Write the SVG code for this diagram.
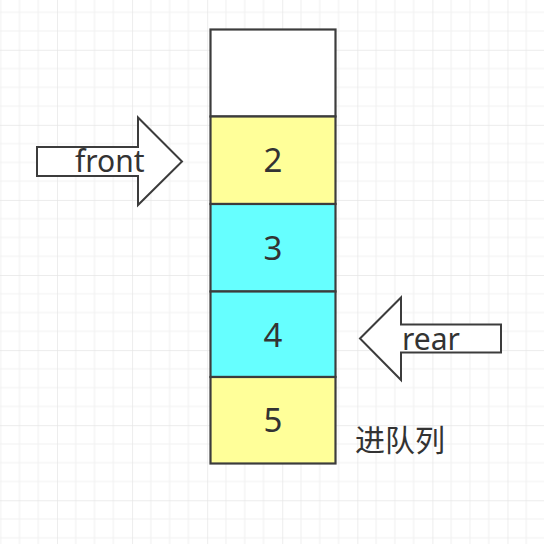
<svg xmlns="http://www.w3.org/2000/svg" width="544" height="544" viewBox="0 0 544 544">
<defs>
<pattern id="grid" patternUnits="userSpaceOnUse" x="-18.08" y="-25.3" width="75.08" height="75.08">
<rect width="75.08" height="75.08" fill="#ffffff"/>
<path d="M18.77 0V75.08M37.54 0V75.08M56.31 0V75.08M0 18.77H75.08M0 37.54H75.08M0 56.31H75.08" stroke="#f2f2f2" stroke-width="1.2" fill="none"/>
<path d="M0 0V75.08M0 0H75.08" stroke="#e6e6e6" stroke-width="1.4" fill="none"/>
</pattern>
</defs>
<style>
.cell{stroke:#3c3c3c;stroke-width:2.2}
.empty{fill:#ffffff}
.yellow{fill:#ffff99}
.cyan{fill:#66ffff}
.arrow{fill:#ffffff;stroke:#3c3c3c;stroke-width:2;stroke-linejoin:miter}
.num{font-family:"Noto Sans","Noto Sans CJK SC",sans-serif;font-size:33px;fill:#333333;text-anchor:middle}
.lbl{font-family:"Noto Sans","Noto Sans CJK SC",sans-serif;font-size:30px;fill:#333333}
.cjk{font-family:"Noto Sans CJK SC",sans-serif;font-size:30px;fill:#333333}
</style>
<rect width="544" height="544" fill="url(#grid)"/>
<g id="cell-empty"><rect class="cell empty" x="210.5" y="29.5" width="125" height="87"/></g>
<g id="cell-2"><rect class="cell yellow" x="210.5" y="116.5" width="125" height="87.5"/><text class="num" x="273" y="172.3">2</text></g>
<g id="cell-3"><rect class="cell cyan" x="210.5" y="204" width="125" height="87.5"/><text class="num" x="273" y="260">3</text></g>
<g id="cell-4"><rect class="cell cyan" x="210.5" y="291.5" width="125" height="85.5"/><text class="num" x="273" y="347.3">4</text></g>
<g id="cell-5"><rect class="cell yellow" x="210.5" y="377" width="125" height="86.5"/><text class="num" x="273" y="432.3">5</text></g>
<g id="front-arrow"><polygon class="arrow" points="37,147 138,147 138,117.5 182,161.5 138,205 138,176 37,176"/><text class="lbl" x="75" y="172.3">front</text></g>
<g id="rear-arrow"><polygon class="arrow" points="360,338.5 401,297.5 401,324.5 501,324.5 501,352.5 401,352.5 401,380"/><text class="lbl" x="402" y="350">rear</text></g>
<g id="caption"><text class="cjk" x="355" y="451">进队列</text></g>
<g id="connectors"></g>
</svg>
